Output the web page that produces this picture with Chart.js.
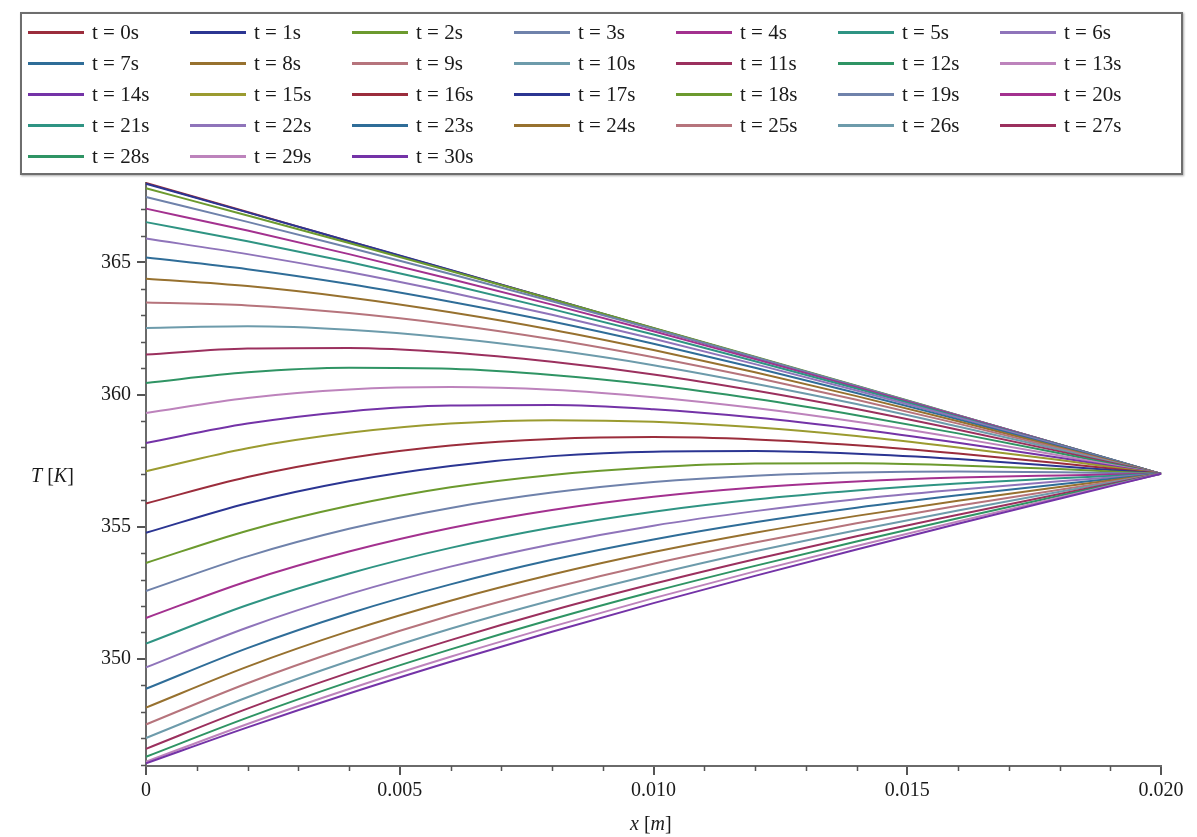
<!DOCTYPE html>
<html>
<head>
<meta charset="utf-8">
<script src="https://cdn.jsdelivr.net/npm/chart.js@4.4.0/dist/chart.umd.min.js"></script>
<style>
    html, body { margin: 0; padding: 0; background: #fff; }
    #wrap { position: relative; width: 1197px; height: 837px; overflow: hidden; }
    #plot { position: absolute; left: 0; top: 0; }
    #legend {
        position: absolute; left: 20px; top: 12px; width: 1153px; height: 156px;
        border: 2px solid #6e6e6e; box-shadow: 1px 1px 2px #aaa;
        display: grid; grid-template-columns: repeat(7, 162px); grid-auto-rows: 31px;
        padding: 3px 0 0 6px; box-sizing: content-box;
        font-family: "Liberation Serif", serif; font-size: 21px; color: #1a1a1a;
    }
    .item { display: flex; align-items: center; white-space: nowrap; }
    .swatch { width: 56px; height: 3px; margin-right: 8px; flex: none; }
    .axis-title { position: absolute; font-family: "Liberation Serif", serif; font-size: 20px; color: #1a1a1a; white-space: nowrap; }
</style>
</head>
<body>
<div id="wrap">
    <canvas id="plot" width="1197" height="837"></canvas>
    <div id="legend"></div>
    <div class="axis-title" style="left:31px; top:464px;"><i>T</i> [<i>K</i>]</div>
    <div class="axis-title" style="left:630px; top:812px;"><i>x</i> [<i>m</i>]</div>
</div>
<script>
    // --- DATA ---
    const xPos = [0, 0.002, 0.004, 0.006, 0.008, 0.010, 0.012, 0.014, 0.016, 0.018, 0.020];
    const times = [0, 1, 2, 3, 4, 5, 6, 7, 8, 9, 10, 11, 12, 13, 14, 15, 16, 17, 18, 19, 20, 21, 22, 23, 24, 25, 26, 27, 28, 29, 30];

    const T00 = [368.00, 366.90, 365.80, 364.70, 363.60, 362.50, 361.40, 360.30, 359.20, 358.10, 357.00];
    const T01 = [367.97, 366.89, 365.80, 364.71, 363.61, 362.51, 361.41, 360.31, 359.21, 358.11, 357.00];
    const T02 = [367.80, 366.77, 365.73, 364.67, 363.60, 362.52, 361.43, 360.33, 359.22, 358.11, 357.00];
    const T03 = [367.47, 366.53, 365.56, 364.56, 363.53, 362.48, 361.41, 360.32, 359.22, 358.11, 357.00];
    const T04 = [367.03, 366.20, 365.31, 364.37, 363.40, 362.39, 361.34, 360.28, 359.20, 358.10, 357.00];
    const T05 = [366.52, 365.80, 365.01, 364.15, 363.23, 362.27, 361.26, 360.23, 359.16, 358.09, 357.00];
    const T06 = [365.90, 365.31, 364.63, 363.86, 363.02, 362.11, 361.15, 360.15, 359.12, 358.07, 357.00];
    const T07 = [365.18, 364.74, 364.18, 363.51, 362.76, 361.92, 361.01, 360.06, 359.06, 358.04, 357.00];
    const T08 = [364.38, 364.10, 363.67, 363.11, 362.45, 361.68, 360.84, 359.94, 358.99, 358.00, 357.00];
    const T09 = [363.48, 363.37, 363.08, 362.65, 362.09, 361.41, 360.64, 359.80, 358.90, 357.96, 357.00];
    const T10 = [362.52, 362.58, 362.45, 362.14, 361.69, 361.11, 360.41, 359.64, 358.79, 357.91, 357.00];
    const T11 = [361.51, 361.74, 361.76, 361.59, 361.24, 360.76, 360.15, 359.45, 358.67, 357.85, 357.00];
    const T12 = [360.44, 360.84, 361.01, 360.97, 360.74, 360.36, 359.84, 359.22, 358.53, 357.78, 357.00];
    const T13 = [359.30, 359.87, 360.19, 360.28, 360.18, 359.90, 359.49, 358.97, 358.36, 357.69, 357.00];
    const T14 = [358.17, 358.90, 359.36, 359.58, 359.60, 359.44, 359.13, 358.70, 358.18, 357.61, 357.00];
    const T15 = [357.10, 357.97, 358.55, 358.90, 359.03, 358.97, 358.76, 358.43, 358.00, 357.52, 357.00];
    const T16 = [355.88, 356.88, 357.60, 358.07, 358.32, 358.39, 358.30, 358.08, 357.77, 357.40, 357.00];
    const T17 = [354.77, 355.89, 356.72, 357.30, 357.67, 357.84, 357.86, 357.76, 357.56, 357.29, 357.00];
    const T18 = [353.63, 354.85, 355.79, 356.49, 356.96, 357.25, 357.39, 357.40, 357.32, 357.18, 357.00];
    const T19 = [352.57, 353.88, 354.92, 355.71, 356.29, 356.69, 356.93, 357.05, 357.09, 357.06, 357.00];
    const T20 = [351.55, 352.94, 354.06, 354.95, 355.63, 356.13, 356.48, 356.71, 356.86, 356.94, 357.00];
    const T21 = [350.58, 352.04, 353.23, 354.20, 354.97, 355.57, 356.03, 356.37, 356.63, 356.83, 357.00];
    const T22 = [349.68, 351.19, 352.45, 353.49, 354.34, 355.04, 355.59, 356.04, 356.40, 356.72, 357.00];
    const T23 = [348.87, 350.41, 351.72, 352.82, 353.75, 354.52, 355.17, 355.72, 356.19, 356.61, 357.00];
    const T24 = [348.16, 349.71, 351.05, 352.20, 353.19, 354.04, 354.77, 355.41, 355.98, 356.50, 357.00];
    const T25 = [347.52, 349.08, 350.44, 351.64, 352.68, 353.60, 354.40, 355.13, 355.79, 356.40, 357.00];
    const T26 = [347.01, 348.55, 349.92, 351.14, 352.22, 353.19, 354.07, 354.87, 355.61, 356.32, 357.00];
    const T27 = [346.60, 348.12, 349.48, 350.71, 351.83, 352.84, 353.77, 354.64, 355.45, 356.24, 357.00];
    const T28 = [346.30, 347.78, 349.13, 350.36, 351.50, 352.55, 353.52, 354.44, 355.32, 356.17, 357.00];
    const T29 = [346.11, 347.54, 348.86, 350.08, 351.22, 352.30, 353.31, 354.27, 355.20, 356.11, 357.00];
    const T30 = [346.05, 347.41, 348.69, 349.89, 351.03, 352.11, 353.14, 354.14, 355.11, 356.06, 357.00];

    const profiles = [T00, T01, T02, T03, T04, T05, T06, T07, T08, T09, T10, T11, T12, T13, T14, T15,
                      T16, T17, T18, T19, T20, T21, T22, T23, T24, T25, T26, T27, T28, T29, T30];

    const xTicks = [0, 0.005, 0.010, 0.015, 0.020];
    const xTickLabels = ['0', '0.005', '0.010', '0.015', '0.020'];
    const xMinor = [0.001, 0.002, 0.003, 0.004, 0.006, 0.007, 0.008, 0.009, 0.011, 0.012, 0.013, 0.014, 0.016, 0.017, 0.018, 0.019];
    const yTicks = [350, 355, 360, 365];
    const yTickLabels = ['350', '355', '360', '365'];
    const yMinor = [346, 347, 348, 349, 351, 352, 353, 354, 356, 357, 358, 359, 361, 362, 363, 364, 366, 367];

    // 16-colour cycle of the plotting program
    const palette = ['#9b2d3c', '#2b3592', '#6c9a2e', '#6f82ab', '#a3318f', '#2f9483', '#8f74ba', '#2f6d98',
                     '#97712f', '#b6747c', '#6d9bab', '#9b305e', '#2f9464', '#bd83bc', '#7433a7', '#9b9b30'];

    // --- CHART ---
    const datasets = profiles.map((vals, i) => ({
        label: `t = ${times[i]}s`,
        data: vals.map((v, j) => ({ x: xPos[j], y: v })),
        borderColor: palette[i % palette.length],
        backgroundColor: palette[i % palette.length],
        borderWidth: 2,
        pointRadius: 0,
        cubicInterpolationMode: 'monotone',
        clip: false,
        order: profiles.length - i
    }));

    const minorTicks = {
        id: 'minorTicks',
        afterDraw(chart) {
            const { ctx, scales: { x, y } } = chart;
            ctx.save();
            ctx.strokeStyle = '#555';
            ctx.lineWidth = 1.5;
            ctx.beginPath();
            yMinor.forEach(v => {
                const py = Math.round(y.getPixelForValue(v)) + 0.5;
                ctx.moveTo(y.right - 5, py);
                ctx.lineTo(y.right, py);
            });
            xMinor.forEach(v => {
                const px = Math.round(x.getPixelForValue(v)) + 0.5;
                ctx.moveTo(px, x.top);
                ctx.lineTo(px, x.top + 5);
            });
            ctx.stroke();
            ctx.restore();
        }
    };

    const tickFont = { family: 'Liberation Serif', size: 20 };

    const chart = new Chart(document.getElementById('plot'), {
        type: 'line',
        data: { datasets },
        plugins: [minorTicks],
        options: {
            responsive: false,
            animation: false,
            layout: { padding: { left: 0, top: 183, right: 36, bottom: 0 } },
            plugins: { legend: { display: false }, tooltip: { enabled: false } },
            scales: {
                x: {
                    type: 'linear',
                    min: 0,
                    max: 0.02,
                    afterBuildTicks: s => { s.ticks = xTicks.map(v => ({ value: v })); },
                    afterFit: s => { s.height = 71; },
                    ticks: {
                        callback: (v, i) => xTickLabels[i],
                        font: tickFont, color: '#1a1a1a', padding: 4,
                        maxRotation: 0, autoSkip: false
                    },
                    grid: { drawOnChartArea: false, tickLength: 9, color: '#555', lineWidth: 2 },
                    border: { color: '#6a6a6a', width: 2 }
                },
                y: {
                    type: 'linear',
                    min: 345.95,
                    max: 368,
                    afterBuildTicks: s => { s.ticks = yTicks.map(v => ({ value: v })); },
                    afterFit: s => { s.width = 146; },
                    ticks: {
                        callback: (v, i) => yTickLabels[i],
                        font: tickFont, color: '#1a1a1a', padding: 6
                    },
                    grid: { drawOnChartArea: false, tickLength: 9, color: '#555', lineWidth: 2 },
                    border: { color: '#6a6a6a', width: 2 }
                }
            }
        }
    });

    // --- LEGEND ---
    const legend = document.getElementById('legend');
    legend.innerHTML = chart.data.datasets.map(ds => `
        <div class="item"><span class="swatch" style="background:${ds.borderColor}"></span>${ds.label}</div>
    `).join('');
</script>
</body>
</html>
